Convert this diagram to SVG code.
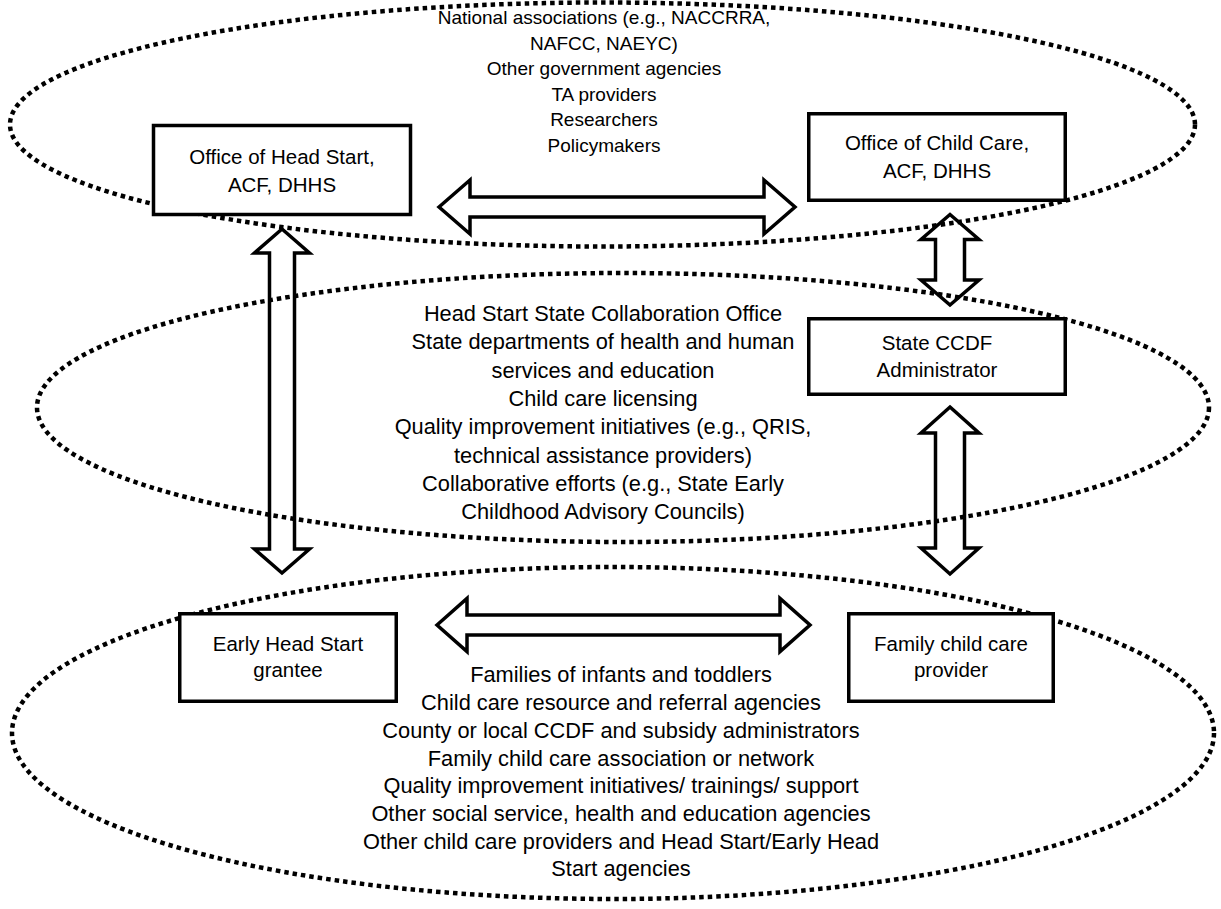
<svg xmlns="http://www.w3.org/2000/svg" width="1221" height="909" viewBox="0 0 1221 909">
<style>
.arrow{fill:#fff;stroke:#000;stroke-width:3.5;stroke-linejoin:miter}
.ring{fill:none;stroke:#000;stroke-width:4.5;stroke-dasharray:4.5 4}
.box{fill:#fff;stroke:#000;stroke-width:3.5}
.t{font-family:"Liberation Sans",Arial,sans-serif;font-size:20.5px;fill:#000;text-anchor:middle}
.tt{font-size:19px}
.tm{font-size:21.8px}
</style>
<rect width="1221" height="909" fill="#fff"/>
<g id="connectors">
<path class="arrow" d="M282,229 L309.5,253 L294.5,253 L294.5,549 L309.5,549 L282,573 L254.5,549 L269.5,549 L269.5,253 L254.5,253 Z"/>
<path class="arrow" d="M950,214.5 L979,239.5 L964.5,239.5 L964.5,280 L979,280 L950,305 L921,280 L935.5,280 L935.5,239.5 L921,239.5 Z"/>
<path class="arrow" d="M950,407 L979,433 L964.5,433 L964.5,548 L979,548 L950,574 L921,548 L935.5,548 L935.5,433 L921,433 Z"/>
<path class="arrow" d="M439,207 L470,180 L470,197 L764,197 L764,180 L795,207 L764,234 L764,217 L470,217 L470,234 Z"/>
<path class="arrow" d="M437,625 L467,598.5 L467,615 L780,615 L780,598.5 L810,625 L780,651.5 L780,635 L467,635 L467,651.5 Z"/>
</g>
<g id="federal-level">
<ellipse class="ring" cx="602.5" cy="124.5" rx="592.5" ry="122"/>
<text class="t tt" x="604" y="24">National associations (e.g., NACCRRA,</text>
<text class="t tt" x="604" y="49.5">NAFCC, NAEYC)</text>
<text class="t tt" x="604" y="75">Other government agencies</text>
<text class="t tt" x="604" y="100.5">TA providers</text>
<text class="t tt" x="604" y="126">Researchers</text>
<text class="t tt" x="604" y="151.5">Policymakers</text>
</g>
<g id="state-level">
<ellipse class="ring" cx="623" cy="407.5" rx="586" ry="134.5"/>
<text class="t tm" x="603" y="321">Head Start State Collaboration Office</text>
<text class="t tm" x="603" y="349">State departments of health and human</text>
<text class="t tm" x="603" y="378">services and education</text>
<text class="t tm" x="603" y="406">Child care licensing</text>
<text class="t tm" x="603" y="434">Quality improvement initiatives  (e.g., QRIS,</text>
<text class="t tm" x="603" y="463">technical assistance providers)</text>
<text class="t tm" x="603" y="491">Collaborative efforts (e.g., State Early</text>
<text class="t tm" x="603" y="519">Childhood Advisory Councils)</text>
</g>
<g id="local-level">
<ellipse class="ring" cx="613" cy="733" rx="601" ry="166"/>
<text class="t tm" x="621" y="682">Families of infants and toddlers</text>
<text class="t tm" x="621" y="710">Child care resource and referral agencies</text>
<text class="t tm" x="621" y="738">County or local CCDF and subsidy administrators</text>
<text class="t tm" x="621" y="765.5">Family child care association or network</text>
<text class="t tm" x="621" y="793">Quality improvement initiatives/ trainings/ support</text>
<text class="t tm" x="621" y="821">Other social service, health and education agencies</text>
<text class="t tm" x="621" y="848.5">Other child care providers and Head Start/Early Head</text>
<text class="t tm" x="621" y="876">Start agencies</text>
</g>
<g id="office-head-start">
<rect class="box" x="153.5" y="125.5" width="257" height="89"/>
<text class="t" x="282" y="164">Office of Head Start,</text>
<text class="t" x="282" y="192">ACF, DHHS</text>
</g>
<g id="office-child-care">
<rect class="box" x="808.75" y="113.75" width="256.5" height="86.5"/>
<text class="t" x="937" y="150">Office of Child Care,</text>
<text class="t" x="937" y="178">ACF, DHHS</text>
</g>
<g id="state-ccdf">
<rect class="box" x="808.75" y="318.75" width="256.5" height="75.5"/>
<text class="t" x="937" y="350">State CCDF</text>
<text class="t" x="937" y="377">Administrator</text>
</g>
<g id="early-head-start">
<rect class="box" x="179.75" y="613.75" width="216.5" height="87.5"/>
<text class="t" x="288" y="651">Early Head Start</text>
<text class="t" x="288" y="677">grantee</text>
</g>
<g id="family-child-care">
<rect class="box" x="848.75" y="613.75" width="204.5" height="87.5"/>
<text class="t" x="951" y="651">Family child care</text>
<text class="t" x="951" y="677">provider</text>
</g>
</svg>
